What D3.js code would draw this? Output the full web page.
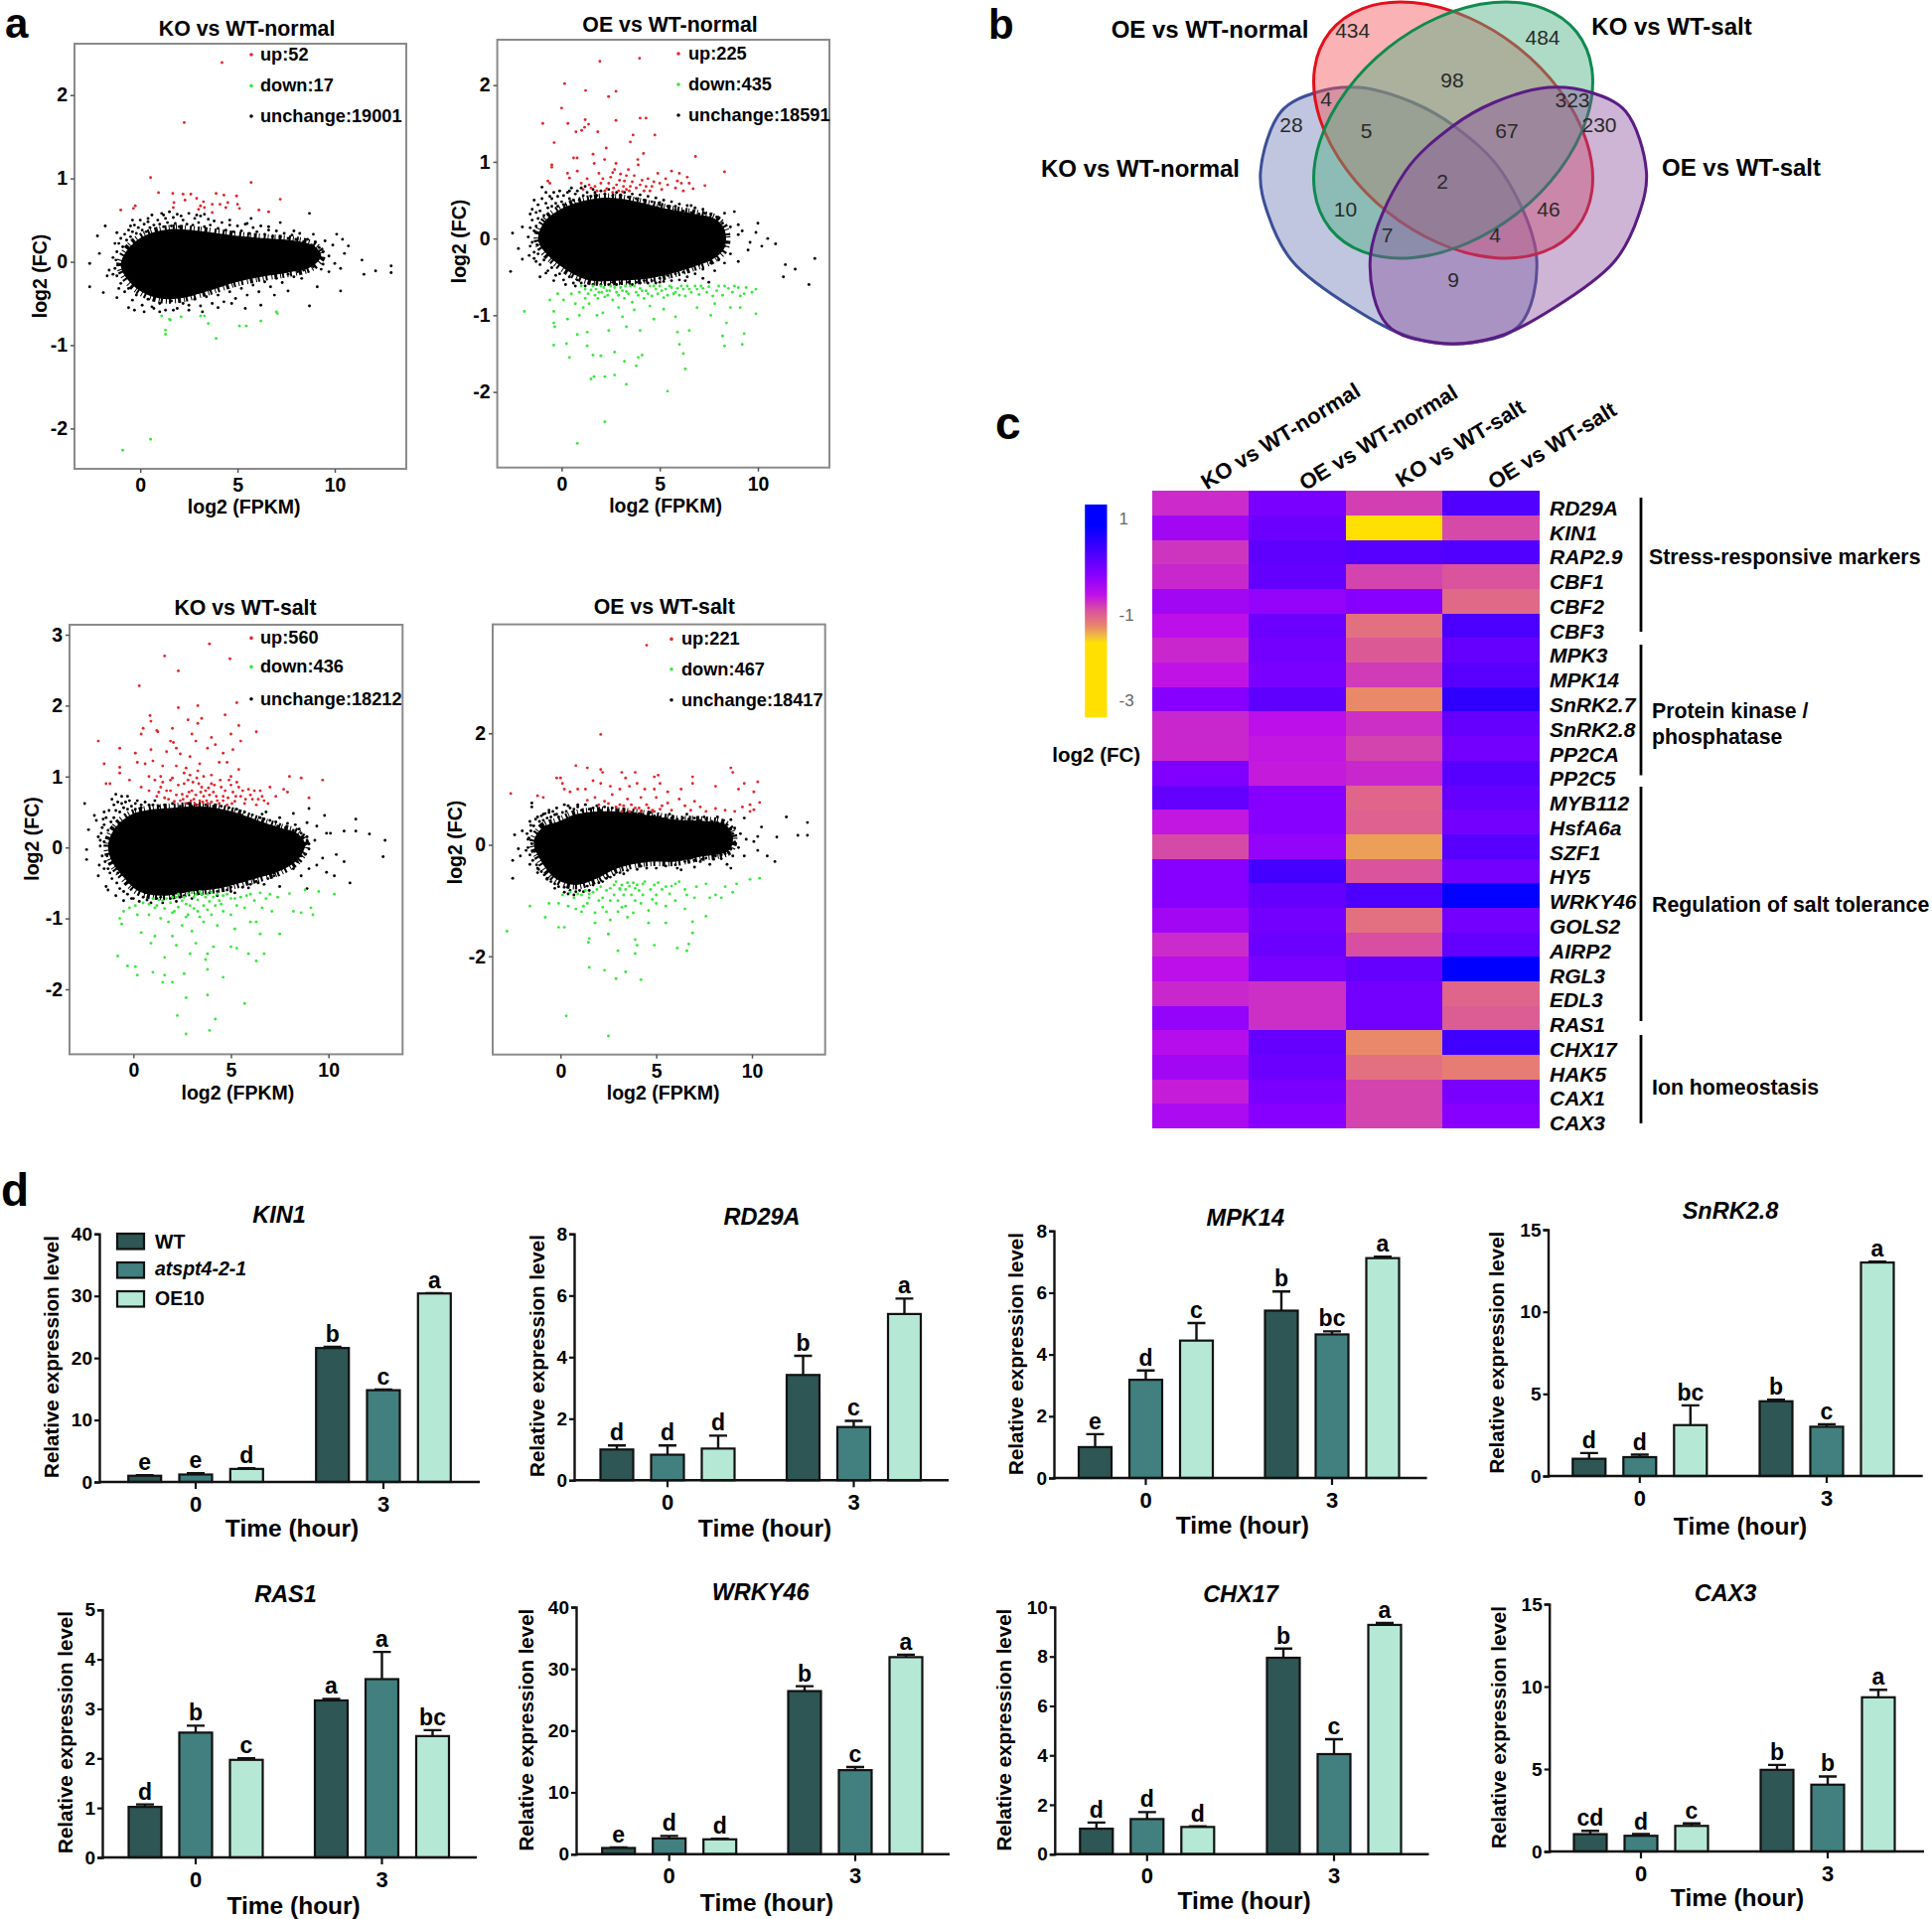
<!DOCTYPE html>
<html>
<head>
<meta charset="utf-8">
<script src="https://cdn.jsdelivr.net/npm/d3@7"></script>
<style>
  body { margin: 0; background: #fff; }
  text { font-family: "Liberation Sans", Arial, sans-serif; fill: #000; }
</style>
</head>
<body>
<div id="chart"></div>
<script>
// ---- panel a: values (log2 FPKM, log2 FC)
const maTitles = ["KO vs WT-normal", "OE vs WT-normal", "KO vs WT-salt", "OE vs WT-salt"];
const maCounts = [
  ["up:52", "down:17", "unchange:19001"],
  ["up:225", "down:435", "unchange:18591"],
  ["up:560", "down:436", "unchange:18212"],
  ["up:221", "down:467", "unchange:18417"]
];

const koNormalUp = [[4.2,2.39],[2.26,1.67],[.53,1.01],[5.7,.95],[.94,.83],[1.67,.82],[2.2,.81],[2.6,.81],[3.9,.82],[4.3,.8],[4.95,.79],[7.2,.75],[-.26,.67],[-1,.62],[1.73,.71],[2.9,.76],[3.25,.72],[3.1,.67],[3.7,.69],[4.1,.69],[4.5,.71],[5,.69],[5.1,.64],[3.7,.59],[6.1,.62],[6.6,.6],[1.7,.65],[3,.63],[3.3,.65],[4.4,.65],[2.3,.74],[-.35,.64]];
const koNormalDown = [[-.9,-2.26],[.53,-2.13],[1.1,-.65],[1.5,-.69],[2.1,-.66],[3.1,-.65],[3.3,-.65],[3.5,-.74],[1.3,-.82],[1.3,-.87],[3.9,-.92],[5.1,-.77],[5.45,-.77],[6.2,-.71],[7,-.6],[7.05,-.62],[1.55,-.7]];
const koNormalFringe = [[-2.6,-.3],[-2.6,-.02],[-2.1,.1],[-2.2,.31],[-1.7,-.17],[-1.9,-.37],[-1.6,-.1],[-1.8,.43],[-1.3,.22],[-1.4,-.15],[-1.2,-.43],[-1.2,.35],[-1.4,.05],[-.6,-.55],[-.3,-.58],[.2,-.6],[.6,-.54],[1,-.6],[1.7,-.58],[2.5,-.58],[3.2,-.6],[4,-.55],[4.7,-.5],[5.4,-.56],[6.2,-.52],[6.9,-.4],[7.6,-.35],[8.7,-.53],[9.1,-.3],[8.3,-.2],[9.7,-.12],[10,-.02],[10.5,.1],[10.4,.27],[10.1,.33],[10.7,.19],[9.5,.25],[8.9,.33],[8.7,.58],[7.9,.37],[7.2,.47],[6.6,.42],[5.7,.52],[5.5,.46],[4.6,.5],[3.3,.57],[2.9,.56],[2.1,.55],[1.2,.56],[.4,.52],[-.4,.5],[-.5,.43],[11.4,.02],[11.5,-.15],[12.1,-.11],[12.9,-.05],[12.9,-.13],[10.3,-.35],[8.2,.05],[9.3,-.09],[9.7,.07],[10.3,-.08],[9.9,.2]];
const koNormalEdge = [[-1.2,.12],[-1.1,.22],[-1,.28],[-.9,.18],[-.8,.33],[-.7,.26],[-.6,.38],[-.5,.3],[-.4,.36],[-.3,.44],[-.2,.34],[-.1,.41],[0,.5],[.1,.38],[.2,.45],[.3,.36],[.4,.48],[.5,.41],[.6,.56],[.7,.44],[.8,.39],[.9,.5],[1,.45],[1.1,.58],[1.2,.42],[1.3,.52],[1.4,.47],[1.5,.6],[1.6,.43],[1.7,.53],[1.8,.46],[1.9,.57],[2,.42],[2.2,.5],[2.4,.45],[2.5,.58],[2.7,.44],[2.8,.52],[3,.47],[3.1,.55],[3.3,.42],[3.5,.51],[3.6,.44],[3.8,.49],[4,.4],[4.2,.47],[4.4,.38],[4.6,.44],[4.8,.36],[5,.43],[5.2,.37],[5.4,.45],[5.6,.34],[5.8,.41],[6,.36],[6.2,.43],[6.4,.33],[6.6,.38],[6.8,.3],[7,.37],[7.2,.3],[7.4,.34],[7.6,.28],[7.8,.32],[8,.27],[8.2,.34],[8.4,.24],[8.6,.27],[8.8,.2],[9,.24],[9.2,.17],[9.4,.12],[8.8,.08],[9.1,.02],[9.4,-.03],[8.9,-.06],[8.6,-.02],[8.4,-.1],[8.1,-.12],[7.9,-.18],[7.6,-.15],[7.3,-.25],[7,-.2],[6.7,-.3],[6.4,-.24],[6.1,-.36],[5.8,-.28],[5.5,-.4],[5.2,-.32],[4.9,-.44],[4.6,-.36],[4.3,-.48],[4,-.4],[3.7,-.5],[3.4,-.42],[3.1,-.53],[2.8,-.45],[2.5,-.52],[2.2,-.5],[1.9,-.56],[1.6,-.47],[1.3,-.58],[1,-.5],[.7,-.56],[.4,-.45],[.1,-.52],[-.2,-.4],[-.4,-.46],[-.6,-.32],[-.8,-.36],[-1,-.26],[-1.1,-.32],[-1.2,-.17],[-1.3,-.08],[-1.25,.02]];
const koNormalCore = [[-1,-.03],[-.6,.16],[.2,.31],[1.5,.39],[3,.37],[5,.31],[6.5,.28],[8,.25],[9,.18],[9.3,.07],[8.8,-.06],[7.6,-.13],[6.5,-.17],[5,-.24],[3.5,-.35],[2,-.44],[1,-.44],[0,-.35],[-.7,-.2]];

const oeNormalUp = [[1.95,2.31],[3.97,2.35],[.15,2.02],[1.22,1.93],[2.77,1.92],[2.39,1.85],[0,1.7],[1.2,1.55],[2.77,1.54],[4,1.57],[4.3,1.57],[-.96,1.5],[.32,1.5],[1.37,1.49],[.73,1.39],[1.02,1.41],[1.84,1.39],[1.17,1.45],[3.64,1.35],[4.75,1.35],[-.38,1.25],[3.5,1.26],[2.27,1.18],[.61,1.05],[.79,1.05],[1.6,1.1],[4.17,1.11],[3.88,1.03],[6.82,1.07],[-.5,.96],[-.5,.93],[1.66,.98],[2.19,1.03],[2.77,.98],[8.3,.87],[-.7,.75],[-.6,.72],[.3,.85],[.4,.79],[.8,.88],[1,.72],[1.3,.78],[1.5,.66],[1.9,.85],[2,.72],[2.3,.65],[2.5,.8],[2.7,.9],[2.8,.7],[3,.84],[3.1,.61],[3.2,.75],[3.4,.9],[3.5,.68],[3.7,.82],[3.9,.96],[4,.7],[4.2,.62],[4.4,.78],[4.6,.68],[4.9,.85],[5.1,.64],[5.4,.7],[5.6,.88],[5.9,.75],[6,.85],[6.2,.62],[6.4,.8],[6.5,.72],[6.7,.65],[7.3,.69],[2.6,.6],[1.8,.62],[3.3,.64],[1.1,.64],[1.4,.7],[1.7,.68],[2.1,.78],[2.2,.62],[2.4,.72],[2.6,.86],[2.65,.66],[2.9,.62],[2.95,.76],[3.15,.68],[3.3,.82],[3.45,.62],[3.6,.74],[3.8,.66],[4.1,.76],[4.3,.68],[4.5,.62],[4.7,.74],[5,.72],[5.3,.78],[5.8,.66],[6.1,.72]];
const oeNormalDown = [[-1.9,-.95],[-.4,-1.1],[-.35,-1.15],[-.4,-1.39],[.25,-1.37],[.4,-1.55],[.8,-1.25],[1.1,-.9],[1.3,-1.22],[1.3,-1.4],[1.6,-1.52],[2,-1.53],[2.7,-1.48],[3.2,-1.6],[3.9,-1.55],[4.1,-1.52],[3.8,-1.66],[1.5,-1.83],[1.65,-1.8],[2.2,-1.8],[2.7,-1.78],[3.3,-1.9],[5.4,-1.99],[2.2,-2.39],[.8,-2.67],[6.3,-1.7],[6.2,-1.5],[6,-1.38],[6.5,-1.2],[5.9,-1.22],[8.3,-1.4],[9.2,-1.38],[8.2,-1.27],[9.3,-1.24],[8.4,-1.1],[7.6,-1],[9.9,-.98],[9.1,-.9],[8.6,-.9],[4.7,-1.05],[4,-1.2],[3.3,-1.15],[2.4,-1.2],[1.8,-1],[.9,-1],[.3,-1.05],[-.4,-.95],[3.1,-1.02],[5.2,-.92],[5.8,-1.02],[4.5,-.88],[3.7,-.93],[2.9,-.9],[2.1,-.97],[1.4,-.85],[.7,-.85],[.1,-.8],[-.6,-.8],[-.2,-.72],[.5,-.72],[.9,-.7],[1.2,-.78],[1.5,-.67],[1.7,-.74],[1.9,-.7],[2,-.62],[2.2,-.76],[2.3,-.68],[2.5,-.62],[2.6,-.8],[2.8,-.7],[3,-.64],[3.2,-.78],[3.3,-.69],[3.5,-.62],[3.6,-.83],[3.8,-.7],[4,-.65],[4.2,-.78],[4.3,-.68],[4.5,-.62],[4.6,-.75],[4.8,-.66],[5,-.62],[5.2,-.77],[5.3,-.66],[5.5,-.62],[5.7,-.72],[5.9,-.65],[6.1,-.62],[6.3,-.75],[6.5,-.66],[6.8,-.62],[7,-.73],[7.2,-.65],[7.5,-.63],[7.7,-.75],[8,-.62],[8.2,-.74],[8.5,-.65],[8.8,-.62],[9.1,-.75],[9.4,-.64],[9.7,-.7],[9.9,-.66],[6.9,-.9],[7.8,-.85],[1,-.62],[1.2,-.66],[1.35,-.72],[1.6,-.62],[1.75,-.66],[1.85,-.78],[2.05,-.7],[2.15,-.64],[2.35,-.74],[2.45,-.68],[2.7,-.64],[2.9,-.74],[3.1,-.68],[3.25,-.62],[3.4,-.72],[3.7,-.62],[3.9,-.74],[4.1,-.68],[4.4,-.72],[4.7,-.62],[4.9,-.72],[5.1,-.68],[5.4,-.74],[5.6,-.64],[5.8,-.7],[6,-.74],[6.2,-.66],[6.4,-.62],[6.6,-.7],[6.9,-.66],[7.1,-.62],[7.4,-.7],[7.9,-.68],[8.3,-.62],[8.7,-.7],[9,-.64],[9.3,-.72]];
const oeNormalFringe = [[-2.5,.07],[-2.6,-.43],[-2.2,-.13],[-2,.15],[-1.6,.32],[-2,-.27],[-1.6,-.1],[-1.4,.5],[-1.3,-.3],[-1.1,-.5],[-1.3,.16],[-1,.67],[-.8,.6],[-.5,.52],[-.2,.55],[.4,.62],[1.2,.68],[1.7,.6],[-.8,-.45],[-.4,-.55],[.2,-.6],[.7,-.62],[5,.47],[5.8,.42],[6.6,.43],[7.3,.33],[7.9,.28],[8.2,.2],[8.6,.15],[8.4,-.05],[8.6,-.2],[8.3,-.32],[7.8,-.42],[7.2,-.52],[8.8,.35],[9,.05],[9.2,.1],[9.6,-.05],[10,.2],[10.2,-.1],[10.5,0],[10.9,-.07],[9.5,-.15],[9,-.3],[11.4,-.34],[11.9,-.4],[11.3,-.5],[12.6,-.6],[12.9,-.26],[9.9,.08],[9,.18],[8.3,.33],[7.5,-.57],[6.3,-.55],[5,-.57],[4,-.58],[3,-.58]];
const oeNormalEdge = [[-1.7,.02],[-1.6,.14],[-1.5,-.05],[-1.5,.24],[-1.4,.1],[-1.4,-.18],[-1.3,.34],[-1.25,-.08],[-1.2,.26],[-1.2,.44],[-1.1,.36],[-1,.52],[-.9,.3],[-.8,.46],[-.7,.4],[-.6,.55],[-.5,.42],[-.4,.6],[-.3,.46],[-.2,.42],[-.1,.62],[0,.48],[.1,.56],[.2,.44],[.3,.6],[.4,.52],[.5,.66],[.6,.5],[.7,.58],[.8,.62],[.9,.5],[1,.66],[1.1,.56],[1.3,.6],[1.5,.55],[1.6,.64],[1.8,.56],[2,.62],[2.2,.58],[2.4,.64],[2.6,.56],[2.8,.6],[3,.57],[3.2,.6],[3.4,.54],[3.6,.58],[3.8,.52],[4,.57],[4.2,.5],[4.4,.55],[4.6,.48],[4.8,.53],[5,.44],[5.2,.5],[5.4,.42],[5.6,.48],[5.8,.38],[6,.45],[6.2,.36],[6.4,.43],[6.6,.34],[6.8,.4],[7,.32],[7.2,.38],[7.4,.26],[7.6,.32],[7.8,.2],[8,.26],[8.2,.12],[8.1,.02],[8.3,-.1],[8.1,-.16],[7.9,-.1],[8,-.28],[7.8,-.22],[7.6,-.32],[7.4,-.26],[7.2,-.4],[7,-.34],[6.8,-.46],[6.6,-.36],[6.4,-.5],[6.2,-.44],[6,-.54],[5.8,-.46],[5.6,-.55],[5.4,-.48],[5.2,-.56],[5,-.52],[4.8,-.58],[4.6,-.55],[4.4,-.58],[4.2,-.55],[3.8,-.57],[3.6,-.6],[3.4,-.57],[2.8,-.6],[2.6,-.57],[2.4,-.6],[2.2,-.58],[2,-.6],[1.8,-.58],[1.6,-.6],[1.4,-.58],[1.2,-.62],[1,-.58],[.8,-.54],[.6,-.58],[.4,-.5],[.1,-.54],[-.1,-.46],[-.3,-.48],[-.5,-.38],[-.7,-.42],[-.9,-.28],[-1.1,-.34],[-1.2,-.2],[-1.4,-.26],[-1.5,.38],[-1.65,-.22]];
const oeNormalCore = [[-1.2,0],[-.9,.21],[-.2,.36],[.8,.47],[2,.53],[3,.52],[4.2,.46],[5.5,.38],[6.8,.32],[7.8,.26],[8.3,.12],[8.3,-.12],[7.7,-.27],[6.8,-.36],[6,-.43],[4.5,-.52],[3,-.55],[1.5,-.55],[.5,-.45],[-.3,-.31],[-1,-.13]];

const koSaltUp = [[3.9,2.87],[1.6,2.7],[4.95,2.66],[2.3,2.49],[.3,2.28],[5.3,2.04],[2.3,1.97],[3.3,2],[4.7,1.87],[.85,1.86],[3.5,1.82],[2.8,1.8],[3.3,1.75],[.9,1.78],[.5,1.68],[1.2,1.65],[2,1.68],[5.4,1.72],[6.3,1.63],[.4,1.6],[1.25,1.63],[3,1.6],[5,1.6],[-1.8,1.5],[1.9,1.5],[2.05,1.48],[2.2,1.4],[3.2,1.5],[4,1.55],[4.2,1.45],[5.5,1.5],[-.7,1.4],[.1,1.33],[.9,1.38],[1.7,1.35],[2.4,1.32],[2.9,1.28],[3.8,1.4],[4.6,1.33],[5.1,1.38],[-1.5,1.18],[-.7,1.13],[.2,1.2],[.6,1.18],[1,1.22],[1.5,1.15],[2.7,1.12],[3.4,1.18],[4.4,1.2],[4.8,1.2],[5.4,1.1],[-1.4,.9],[-1.2,.9],[-.7,1.05],[.8,1],[1.4,1],[1.9,.95],[2.6,1.05],[3.3,1.08],[4,1.02],[5,1],[-.2,.95],[.4,.85],[.8,.8],[1.2,.72],[1.4,.85],[1.6,.7],[1.9,.8],[2.1,.65],[2.3,.88],[2.5,.75],[2.7,.62],[2.8,.95],[3,.8],[3.1,.68],[3.3,.6],[3.5,.85],[3.6,.72],[3.8,.62],[4,.9],[4.1,.78],[4.3,.66],[4.5,.85],[4.6,.72],[4.8,.6],[4.9,.95],[5.1,.78],[5.2,.65],[5.4,.85],[5.5,.72],[5.7,.62],[5.9,.82],[6.1,.68],[6.3,.6],[6.5,.8],[6.7,.66],[7,.85],[7.3,.72],[7.7,.82],[8,1],[7.9,.78],[8.6,.98],[9.7,.95],[9,.7],[6.9,.62],[2.2,1.15],[1.1,.95],[1.3,.78],[1.5,.92],[1.7,.8],[1.8,.68],[2,.98],[2.2,.74],[2.4,.66],[2.6,.9],[2.75,.72],[2.9,1.02],[2.95,.66],[3.05,.92],[3.2,.74],[3.25,.98],[3.4,.66],[3.45,.78],[3.6,1],[3.7,.8],[3.75,.66],[3.9,.74],[4,.64],[4.15,.88],[4.25,.72],[4.4,.62],[4.45,.95],[4.6,.66],[4.7,.8],[4.85,.7],[5,.88],[5.05,.62],[5.25,.72],[5.3,.92],[5.6,.8],[5.75,.68],[6,.74],[6.2,.8],[6.4,.68],[6.6,.72],[2.85,.78],[3.35,.9],[3.85,.84],[2.55,.68],[3.15,.62],[3.55,.64]];
const koSaltDown = [[-.8,-1.53],[-.3,-1.67],[.1,-1.68],[.2,-1.8],[1,-1.76],[1.6,-1.8],[1.5,-1.9],[2,-1.9],[2.6,-1.78],[2.7,-2.12],[3.8,-2.08],[5.7,-2.2],[2.25,-2.37],[4.2,-2.42],[2.7,-2.63],[3.9,-2.58],[3.8,-1.72],[4.6,-1.83],[1.6,-1.55],[2.9,-1.5],[3.7,-1.58],[3.8,-1.5],[5.9,-1.5],[6.7,-1.5],[6.3,-1.6],[5.3,-1.42],[6.5,-1.22],[7.5,-1.22],[2,-1.25],[1.1,-1.25],[.4,-1.2],[.9,-1.35],[2.2,-1.38],[3.2,-1.35],[4.1,-1.4],[5,-1.4],[5.2,-1.15],[6,-1.05],[6.3,-1.05],[-.7,-1],[-.6,-1.08],[-.5,-.9],[-.2,-.85],[.2,-.95],[.8,-.95],[1.1,-.85],[1.4,-1],[1.8,-1.05],[2.1,-.9],[2.5,-1.1],[2.8,-.95],[3,-1.18],[3.3,-.9],[3.6,-1.05],[4,-.95],[4.3,-1.1],[4.6,-.9],[5,-.95],[5.7,-.85],[6.6,-.85],[7.1,-.9],[8.2,-.9],[8.6,-.92],[9.1,-.85],[9.2,-.95],[10.3,-.66],[9.5,-.62],[8.8,-.6],[8,-.65],[7.4,-.7],[6.8,-.72],[6.2,-.75],[5.8,-.68],[5.2,-.72],[4.8,-.66],[4.4,-.75],[4,-.63],[3.7,-.7],[3.4,-.62],[3.1,-.7],[2.8,-.65],[2.5,-.75],[2.2,-.7],[1.9,-.78],[1.5,-.75],[1.2,-.82],[.8,-.8],[.5,-.78],[.1,-.82],[3.6,-.82],[2.9,-.82],[4.2,-.82],[5.3,-.82],[1,-.72],[1.3,-.74],[1.7,-.72],[2,-.7],[2.3,-.66],[2.6,-.7],[2.7,-.8],[3,-.64],[3.2,-.66],[3.3,-.74],[3.5,-.66],[3.8,-.66],[3.9,-.76],[4.1,-.7],[4.3,-.66],[4.6,-.68],[5,-.72],[5.5,-.7],[6,-.66],[6.5,-.64],[7,-.66],[1.6,-.86],[2.3,-.84],[3.1,-.86],[3.8,-.88],[4.5,-.8],[2,-.92],[2.7,-.98],[3.4,-.98]];
const koSaltFringe = [[-2.5,.62],[-2.4,-.03],[-2.4,-.17],[-2.3,.25],[-2,.45],[-1.9,.38],[-1.8,-.4],[-1.7,.1],[-1.5,-.3],[-1.5,.5],[-1.4,-.55],[-1.3,-.6],[-1.1,.68],[-.9,.75],[-.6,.62],[-.3,.72],[.1,.62],[-.9,-.68],[-.5,-.75],[0,-.72],[.4,.6],[1,.6],[6.6,.47],[6.8,.5],[7.5,.42],[8.2,.48],[9,.55],[9.8,.45],[8.9,.35],[9.4,.3],[9.9,.2],[10.1,.2],[10.8,.23],[11.4,.4],[11.4,.23],[12.1,.19],[12.9,.1],[12.8,-.13],[9.4,-.25],[9.9,-.35],[10.3,-.4],[10.8,-.2],[11.1,-.5],[10.4,-.1],[9.7,-.15],[9,-.3],[8.6,-.4],[8.2,-.3],[7.5,-.55],[7.2,-.4],[8.9,-.58],[9,.05],[9.3,.1],[6.7,-.52],[5.9,-.57],[5,-.62],[4.3,-.62],[3.3,-.6],[8.9,.15]];
const koSaltEdge = [[-1.7,.02],[-1.65,.2],[-1.6,-.12],[-1.5,.32],[-1.5,.08],[-1.45,-.2],[-1.4,.42],[-1.35,-.12],[-1.3,.24],[-1.25,.52],[-1.2,-.36],[-1.15,.36],[-1.1,-.44],[-1,.6],[-1,.42],[-.9,.52],[-.85,-.5],[-.8,.64],[-.7,.5],[-.7,-.58],[-.6,.72],[-.5,.56],[-.5,-.62],[-.4,.64],[-.3,.54],[-.3,-.66],[-.2,.66],[-.1,.58],[-.1,-.72],[.1,.54],[.2,.66],[.3,-.76],[.4,.56],[.5,-.7],[.6,.64],[.7,-.74],[.8,.6],[.9,-.78],[1.1,.66],[1.2,-.72],[1.3,.58],[1.5,-.78],[1.6,.6],[1.9,-.72],[2,.62],[2.2,-.76],[2.4,.58],[2.6,-.68],[2.8,.62],[3,-.72],[3.2,.6],[3.5,-.66],[3.7,.6],[3.9,-.64],[4.1,.58],[4.3,-.68],[4.5,.58],[4.8,-.6],[4.9,.56],[5.2,-.64],[5.3,.54],[5.6,-.56],[5.7,.5],[6,-.52],[6.1,.46],[6.4,-.5],[6.5,.42],[6.9,-.44],[7,.38],[7.2,-.36],[7.4,.3],[7.6,-.3],[7.8,.28],[8,-.24],[8.2,.24],[8.4,-.2],[8.6,.2],[8.8,-.1],[8.9,.1],[9,-.02],[8.8,.04],[8.7,.14],[8.6,-.12],[8.5,.26],[8.3,.32],[8.1,-.14],[7.9,.34],[7.7,-.22],[7.3,.36],[6.7,.4],[6.3,-.48],[5.5,.46],[5,-.56],[4.4,.52],[3.8,-.58],[3,.58],[2.4,-.7],[1.4,-.7],[.6,-.64],[-.3,-.5],[-.8,-.36],[-1.3,-.3],[-1.55,.4],[-1.6,.28],[-1.75,-.25],[-1.8,.15]];
const koSaltCore = [[-1.3,.02],[-1,.25],[-.2,.45],[.8,.53],[2,.56],[3.5,.58],[5,.51],[6.2,.4],[7.5,.28],[8.4,.2],[8.8,.05],[8.5,-.15],[7.6,-.32],[6,-.46],[4.5,-.57],[3,-.62],[1.5,-.68],[.3,-.62],[-.5,-.42],[-1.1,-.2]];

const oeSaltUp = [[4.5,3.58],[2.1,1.98],[.8,1.42],[1.4,1.38],[2.1,1.35],[2.2,1.3],[3.2,1.3],[3.9,1.3],[5.1,1.25],[4.9,1.22],[6.9,1.22],[8.9,1.38],[9,1.3],[10.3,1.13],[9.6,1.1],[-2.6,.92],[-1.2,.88],[-.9,.85],[-.2,1.2],[0,1.2],[.1,1.1],[.2,1],[.5,.95],[.9,1],[1.3,1],[1.7,1.15],[2.1,1.1],[2.6,1.05],[3.1,1],[3.4,1.2],[3.6,1.05],[4,1.1],[4.4,1],[4.9,1],[5.2,1.1],[5.6,.95],[6.3,1],[6.9,1.1],[8.1,1.05],[9.3,1],[10.1,.95],[10.4,.76],[9.9,.72],[9.5,.68],[1.4,.8],[1.8,.85],[2.3,.78],[2.7,.9],[3.1,.72],[3.5,.82],[3.9,.66],[4.2,.85],[4.5,.72],[4.8,.62],[5,.85],[5.3,.7],[5.6,.75],[5.8,.62],[6.2,.82],[6.5,.7],[6.8,.62],[7,.78],[7.3,.68],[7.6,.6],[8.1,.65],[8.6,.62],[9.1,.6],[9.9,.6],[10.1,.63],[3.2,.6],[3.6,.6],[4.2,.6],[4.9,.6],[2,.72],[2.5,.74],[2.9,.68],[3.3,.7],[3.7,.72],[4.1,.66],[4.6,.66],[5.2,.64]];
const oeSaltDown = [[.3,-3.07],[2.5,-3.43],[-2.8,-1.55],[-.1,-1.48],[1.5,-1.68],[1.45,-1.75],[2.5,-1.6],[3,-1.9],[3.9,-1.7],[4,-1.8],[3.9,-1.95],[4.9,-1.8],[6.1,-1.85],[6.6,-1.9],[6.7,-1.78],[1.5,-2.2],[2.3,-2.25],[2.9,-2.4],[3.4,-2.28],[4.2,-2.42],[2.5,-1.6],[6.9,-1.38],[7.6,-1.28],[6.9,-1.58],[5.5,-1.4],[4.6,-1.4],[3.5,-1.3],[2.6,-1.35],[1.8,-1.4],[.2,-1.48],[-1.6,-1.1],[-.8,-1.3],[-.6,-1.05],[-.1,-1.05],[.4,-1.1],[.8,-1.15],[1.1,-1.2],[1.4,-1.05],[1.8,-1.22],[2.2,-1.12],[2.6,-1],[3,-1.2],[3.4,-1.1],[3.8,-1.22],[4.2,-1.05],[4.6,-1.18],[5,-1.05],[5.5,-1.1],[6,-1],[6.5,-1.15],[7,-.95],[7.8,-.95],[8.1,-.9],[8.4,-.95],[9,-.85],[9.2,-.7],[10.4,-.6],[9.9,-.62],[8.6,-.75],[7.6,-.7],[7.1,-.75],[6.5,-.8],[6,-.7],[5.5,-.75],[5.1,-.68],[4.7,-.8],[4.3,-.7],[3.9,-.78],[3.5,-.68],[3.1,-.8],[2.8,-.72],[2.4,-.82],[2.1,-.75],[1.7,-.85],[1.3,-.82],[.9,-.88],[.5,-.85],[.1,-.9],[3.3,-.9],[2.8,-.9],[3.7,-.9],[2.2,-.95],[1.5,-.95],[4.3,-.9],[5,-.9],[5.7,-.88],[6.6,-.9],[3.1,-.78],[3.6,-.74],[2.6,-.78],[2.9,-.66],[3.2,-.72],[3.4,-.8],[3.8,-.68],[4,-.72],[4.1,-.82],[4.4,-.66],[4.9,-.72],[5.3,-.8],[5.8,-.74],[6.2,-.66],[1.9,-.8],[1.5,-.88],[1.1,-.9],[.7,-.95],[2,-1],[3,-1],[3.9,-1],[4.8,-.98],[1.2,-1.1],[2.4,-1.2],[3.2,-1.12]];
const oeSaltFringe = [[-2.5,-.6],[-2.4,.18],[-2.5,-.28],[-2.2,-.07],[-2.1,-.2],[-2,.25],[-1.7,.1],[-1.6,-.35],[-1.6,.42],[-1.5,.75],[-1.5,.68],[-1.2,.5],[-.9,.55],[-.6,.58],[-.2,.55],[.4,.7],[.9,.72],[-1.2,-.5],[-.7,-.62],[-.3,-.78],[.2,-.85],[.7,-.9],[4.7,.58],[5.7,.55],[6.6,.55],[7.5,.5],[8.2,.5],[8.9,.45],[9.6,.48],[9.1,.3],[9.4,.2],[9.7,.1],[10.1,.06],[10.5,.32],[11.8,.5],[12.9,.4],[12.4,.17],[12.9,.17],[11.3,.14],[10.3,.15],[10.3,-.1],[10.8,-.2],[11.2,-.3],[9.6,-.2],[9,-.2],[8.7,-.35],[8.4,-.25],[8.9,-.42],[7.8,-.35],[7.3,-.3],[7,-.4],[6.3,-.45],[9.1,.05],[9.3,-.05]];
const oeSaltEdge = [[-1.7,-.05],[-1.65,.12],[-1.6,-.18],[-1.55,.25],[-1.5,.02],[-1.45,-.28],[-1.4,.34],[-1.35,-.12],[-1.3,.46],[-1.25,-.36],[-1.2,.2],[-1.15,-.44],[-1.1,.42],[-1,.52],[-1,-.48],[-.9,.44],[-.85,-.54],[-.8,.56],[-.7,.48],[-.7,-.6],[-.6,.62],[-.5,.5],[-.5,-.66],[-.4,.6],[-.3,.54],[-.3,-.7],[-.2,.66],[-.1,.5],[-.1,-.75],[.1,.58],[.2,.72],[.2,-.76],[.3,.6],[.5,.66],[.5,-.82],[.7,.64],[.8,-.84],[.9,.68],[1,-.82],[1.1,.62],[1.2,-.84],[1.3,.72],[1.4,-.74],[1.5,.64],[1.7,.66],[1.7,-.72],[1.9,.7],[2,-.68],[2.1,.62],[2.3,.68],[2.4,-.6],[2.5,.62],[2.7,.66],[2.8,-.54],[3,.62],[3.1,-.5],[3.3,.62],[3.5,.58],[3.5,-.46],[3.7,.58],[3.9,.56],[4,-.44],[4.1,.56],[4.3,.54],[4.5,-.42],[4.6,.56],[4.9,.52],[5,-.42],[5.2,.5],[5.5,.48],[5.5,-.38],[5.8,.48],[6,-.36],[6.1,.46],[6.4,.48],[6.5,-.3],[6.7,.46],[7,.48],[7,-.28],[7.3,.44],[7.6,.46],[7.6,-.24],[7.9,.42],[8.1,-.2],[8.2,.4],[8.5,.38],[8.6,-.16],[8.7,.36],[8.9,.28],[9,.2],[8.95,.14],[9,.02],[8.9,-.08],[8.8,-.14],[8.4,-.18],[8,-.26],[7.4,-.26],[6.8,-.24],[6.1,-.42],[4.2,-.38],[3.3,-.52],[2.6,-.58],[2.2,-.66],[1.5,-.82],[.4,-.88],[-1.2,-.42],[-1.55,.35],[-1.75,.2],[-1.8,-.1]];
const oeSaltCore = [[-1.4,.05],[-.9,.32],[-.1,.42],[.8,.55],[2,.6],[3.5,.58],[4.8,.52],[6,.45],[7.5,.43],[8.6,.36],[9,.15],[8.8,-.1],[7.2,-.22],[6,-.3],[4.5,-.31],[3,-.42],[1.8,-.62],[.8,-.72],[-.2,-.62],[-1,-.3]];

const maUp = [koNormalUp, oeNormalUp, koSaltUp, oeSaltUp];
const maDown = [koNormalDown, oeNormalDown, koSaltDown, oeSaltDown];
const maFringe = [koNormalFringe.concat(koNormalEdge), oeNormalFringe.concat(oeNormalEdge), koSaltFringe.concat(koSaltEdge), oeSaltFringe.concat(oeSaltEdge)];
const maCore = [koNormalCore, oeNormalCore, koSaltCore, oeSaltCore];
const maXTicks = [0, 5, 10];
const maYTicks = [[-2, -1, 0, 1, 2], [-2, -1, 0, 1, 2], [-2, -1, 0, 1, 2, 3], [-2, 0, 2]];

// ---- panel b
const vennSets = ["OE vs WT-normal", "KO vs WT-salt", "KO vs WT-normal", "OE vs WT-salt"];
const vennCounts = [434, 484, 98, 4, 323, 28, 5, 67, 230, 2, 10, 46, 7, 4, 9];

// ---- panel c
const heatColumns = ["KO vs WT-normal", "OE vs WT-normal", "KO vs WT-salt", "OE vs WT-salt"];
const heatGenes = ["RD29A", "KIN1", "RAP2.9", "CBF1", "CBF2", "CBF3", "MPK3", "MPK14", "SnRK2.7", "SnRK2.8", "PP2CA", "PP2C5", "MYB112", "HsfA6a", "SZF1", "HY5", "WRKY46", "GOLS2", "AIRP2", "RGL3", "EDL3", "RAS1", "CHX17", "HAK5", "CAX1", "CAX3"];
const heatKoNormal = [-.7, -.35, -.75, -.68, -.35, -.55, -.68, -.58, -.15, -.68, -.68, -.1, .1, -.6, -.85, -.15, -.15, -.35, -.7, -.55, -.68, -.25, -.5, -.35, -.63, -.42];
const heatOeNormal = [-.05, .05, .15, .1, -.25, .05, 0, -.05, .15, -.55, -.6, -.62, -.15, -.15, -.25, .35, .1, 0, .05, -.05, -.72, -.72, .1, .05, -.05, -.15];
const heatKoSalt = [-.8, -3, .2, -.82, -.15, -1.1, -.95, -.78, -1.25, -.72, -.82, -.68, -1.03, -1, -1.35, -.9, .28, -1.1, -.87, .1, 0, 0, -1.25, -1.1, -.82, -.82];
const heatOeSalt = [.25, -.85, .25, -.9, -1.05, .3, .1, .2, .5, .1, 0, .2, .1, 0, .2, 0, .85, 0, .12, .9, -1.03, -.97, .38, -1.18, -.05, -.15];
const heatValues = [heatKoNormal, heatOeNormal, heatKoSalt, heatOeSalt];
const heatLegendTicks = [1, -1, -3];
const heatGroups = ["Stress-responsive markers", "Protein kinase /", "phosphatase", "Regulation of salt tolerance", "Ion homeostasis"];

// ---- panel d
const times = ["0", "3"];
const genotypes = ["WT", "atspt4-2-1", "OE10"];
const barGenes = ["KIN1", "RD29A", "MPK14", "SnRK2.8", "RAS1", "WRKY46", "CHX17", "CAX3"];
const barMeans = [
  [1.0, 1.2, 2.1, 21.6, 14.8, 30.4],
  [1.0, .83, 1.03, 3.42, 1.73, 5.4],
  [1.0, 3.18, 4.45, 5.42, 4.65, 7.12],
  [1.05, 1.15, 3.1, 4.55, 3.0, 13.0],
  [1.02, 2.52, 1.97, 3.17, 3.6, 2.45],
  [1.0, 2.55, 2.4, 26.4, 13.6, 31.9],
  [1.03, 1.42, 1.1, 7.95, 4.05, 9.28],
  [1.05, .95, 1.55, 4.95, 4.05, 9.35]
];
const barErrors = [
  [.1, .2, .1, .2, .1, .05],
  [.13, .3, .42, .62, .2, .5],
  [.42, .3, .57, .62, .1, .05],
  [.35, .15, 1.2, .1, .15, .05],
  [.05, .14, .03, .03, .55, .12],
  [.1, .4, .1, .8, .5, .4],
  [.25, .28, .03, .37, .6, .08],
  [.2, .1, .15, .3, .5, .45]
];
const barLetters = [
  ["e", "e", "d", "b", "c", "a"],
  ["d", "d", "d", "b", "c", "a"],
  ["e", "d", "c", "b", "bc", "a"],
  ["d", "d", "bc", "b", "c", "a"],
  ["d", "b", "c", "a", "a", "bc"],
  ["e", "d", "d", "b", "c", "a"],
  ["d", "d", "d", "b", "c", "a"],
  ["cd", "d", "c", "b", "b", "a"]
];
const barYTicks = [
  [0, 10, 20, 30, 40], [0, 2, 4, 6, 8], [0, 2, 4, 6, 8], [0, 5, 10, 15],
  [0, 1, 2, 3, 4, 5], [0, 10, 20, 30, 40], [0, 2, 4, 6, 8, 10], [0, 5, 10, 15]
];

// ---- layout (page pixels)
const width = 1945;
const height = 1932;

const svg = d3.select("#chart").append("svg")
  .attr("width", width).attr("height", height)
  .attr("viewBox", [0, 0, width, height]);

function label(x, y, str, size, opts = {}) {
  return svg.append("text")
    .attr("transform", `translate(${x},${y})` + (opts.rotate ? ` rotate(${opts.rotate})` : ""))
    .attr("text-anchor", opts.anchor || "middle")
    .attr("dominant-baseline", opts.baseline || "central")
    .attr("font-size", size)
    .attr("font-weight", opts.weight || "bold")
    .attr("font-style", opts.italic ? "italic" : "normal")
    .style("fill", opts.fill || "#000")
    .text(str);
}

label(5, 38, "a", 42, { anchor: "start", baseline: "auto" });
label(995, 39, "b", 42, { anchor: "start", baseline: "auto" });
label(1002, 442, "c", 46, { anchor: "start", baseline: "auto" });
label(1, 1214, "d", 46, { anchor: "start", baseline: "auto" });

// ---- panel a
const maLayout = [
  { l: 75, r: 409, t: 44, b: 472, x0: 141.2, x10: 337, yLo: [-2, 431.4], yHi: [2, 95.7], title: [248.6, 29], xLab: [245.7, 510], yLab: [40, 278], keyDot: 253, keyText: 262, keyY: [55, 86.4, 117] },
  { l: 500.6, r: 835, t: 40, b: 470.7, x0: 565.4, x10: 763, yLo: [-2, 394.6], yHi: [2, 85.7], title: [674.5, 25], xLab: [670, 509], yLab: [462, 243], keyDot: 683, keyText: 693, keyY: [54, 85, 116] },
  { l: 70, r: 405.3, t: 629, b: 1061.4, x0: 134.3, x10: 330.7, yLo: [-2, 996], yHi: [3, 639], title: [247, 612.4], xLab: [239.4, 1100], yLab: [31.6, 844.5], keyDot: 253, keyText: 262, keyY: [642.4, 671.4, 703.8] },
  { l: 496, r: 830.7, t: 628.6, b: 1061.7, x0: 564.3, x10: 757, yLo: [-2, 962.8], yHi: [2, 738.3], title: [668.8, 610.7], xLab: [667.6, 1100], yLab: [457.5, 848], keyDot: 676, keyText: 686, keyY: [643.4, 673.8, 704.8] }
];
const upColor = "#e3262b";
const downColor = "#38e83c";

maLayout.forEach((p, i) => {
  const x = d3.scaleLinear().domain([0, 10]).range([p.x0, p.x10]);
  const y = d3.scaleLinear().domain([p.yLo[0], p.yHi[0]]).range([p.yLo[1], p.yHi[1]]);
  const g = svg.append("g");

  g.append("rect").attr("x", p.l).attr("y", p.t)
    .attr("width", p.r - p.l).attr("height", p.b - p.t)
    .attr("fill", "#fff").attr("stroke", "#8a8a8a").attr("stroke-width", 2);

  // the saturated part of the cloud, with a broken stroke so its rim stays rough
  const outline = d3.line().x(d => x(d[0])).y(d => y(d[1])).curve(d3.curveCatmullRomClosed);
  g.append("path").attr("d", outline(maCore[i]))
    .attr("fill", "#000").attr("stroke", "#000").attr("stroke-width", 9)
    .attr("stroke-dasharray", "2 1 1 3 3 2 1 4 2 2 1 3");

  const groups = [[maFringe[i], "#000"], [maUp[i], upColor], [maDown[i], downColor]];
  groups.forEach(([pts, col]) => {
    g.append("g").selectAll("circle").data(pts).join("circle")
      .attr("cx", d => x(d[0])).attr("cy", d => y(d[1]))
      .attr("r", 1.45).attr("fill", col);
  });

  const xAxis = g.append("g").attr("transform", `translate(0,${p.b})`)
    .call(d3.axisBottom(x).tickValues(maXTicks).tickSize(4).tickPadding(5).tickFormat(d => d));
  const yAxis = g.append("g").attr("transform", `translate(${p.l},0)`)
    .call(d3.axisLeft(y).tickValues(maYTicks[i]).tickSize(4).tickPadding(3).tickFormat(d => d));
  [xAxis, yAxis].forEach(a => {
    a.select(".domain").remove();
    a.selectAll("line").attr("stroke", "#555").attr("stroke-width", 1.5);
    a.selectAll("text").attr("font-size", 19.5).attr("font-weight", "bold");
  });

  label(p.title[0], p.title[1], maTitles[i], 21.3);
  label(p.xLab[0], p.xLab[1], "log2 (FPKM)", 19.5);
  label(p.yLab[0], p.yLab[1], "log2 (FC)", 19.5, { rotate: -90 });

  [upColor, downColor, "#000"].forEach((col, k) => {
    g.append("circle").attr("cx", p.keyDot).attr("cy", p.keyY[k]).attr("r", 1.8).attr("fill", col);
    label(p.keyText, p.keyY[k], maCounts[i][k], 18.2, { anchor: "start" });
  });
});

// ---- panel b
const vennBack = svg.append("g");
const vennCenter = [1463, 131];
const vennOvals = [
  { rot: 38.6, fill: "#f4585c", stroke: "#e3101c" },
  { rot: -38.6, fill: "#4fb083", stroke: "#108a50" }
];
const blueEgg = [[1269, 173], [1290, 112], [1325, 93], [1368, 88], [1422, 103], [1464, 127], [1512, 173], [1547, 260], [1530, 327], [1482, 345], [1422, 340], [1362, 310], [1301, 263], [1277, 217]];
const purpleEgg = blueEgg.map(d => [2 * vennCenter[0] - d[0] + 0.5, d[1]]);
const eggLine = d3.line().curve(d3.curveCatmullRomClosed);

vennBack.append("path").attr("d", eggLine(blueEgg))
  .attr("fill", "#6a78b4").attr("fill-opacity", .42)
  .attr("stroke", "#3c4f96").attr("stroke-width", 3);
vennOvals.forEach(o => {
  vennBack.append("ellipse")
    .attr("transform", `translate(${vennCenter}) rotate(${o.rot})`)
    .attr("rx", 158.7).attr("ry", 105.7)
    .attr("fill", o.fill).attr("fill-opacity", .46)
    .attr("stroke", o.stroke).attr("stroke-width", 3);
});
vennBack.append("path").attr("d", eggLine(purpleEgg))
  .attr("fill", "#8a4c9c").attr("fill-opacity", .42)
  .attr("stroke", "#5a1c84").attr("stroke-width", 3);

const vennCountPos = [[1361.7, 30.7], [1553, 37], [1462, 80.7], [1335, 99], [1583, 100.7], [1300, 125], [1375.5, 131], [1517, 131], [1610, 125], [1452, 182], [1354.4, 210], [1559, 210], [1396.6, 236], [1505, 236], [1463, 281.7]];
vennCounts.forEach((c, i) => {
  label(vennCountPos[i][0], vennCountPos[i][1], c, 21, { weight: "normal", fill: "#2a2a2a" });
});
const vennSetPos = [[1218, 29], [1683, 26], [1148, 169], [1753, 168]];
vennSets.forEach((s, i) => label(vennSetPos[i][0], vennSetPos[i][1], s, 24));

// ---- panel c
const heatX = d3.scaleBand().domain(heatColumns.map((d, i) => i)).range([1159.7, 1549.7]);
const heatY = d3.scaleBand().domain(heatGenes).range([494.4, 1136]);
const heatColor = d3.scaleLinear()
  .domain([1.3, .87, .35, -.16, -.57, -.88, -1.21, -1.5, -1.63, -3.4])
  .range(["#0000ff", "#0000ff", "#4400ff", "#8800ff", "#c010e8", "#d850a0", "#e88070", "#f0c040", "#ffe000", "#ffe000"])
  .clamp(true);

svg.append("g").selectAll("g").data(heatValues).join("g")
  .attr("transform", (d, i) => `translate(${heatX(i)},0)`)
  .selectAll("rect").data(d => d).join("rect")
  .attr("y", (d, i) => heatY(heatGenes[i]))
  .attr("width", heatX.bandwidth()).attr("height", heatY.bandwidth())
  .attr("shape-rendering", "crispEdges")
  .attr("fill", d => heatColor(d));

const heatHeadPos = [[1211, 487], [1310, 488], [1407, 485], [1500, 487]];
heatColumns.forEach((c, i) => {
  label(heatHeadPos[i][0], heatHeadPos[i][1], c, 22, { anchor: "start", rotate: -31.5 });
});

const geneY = d3.scalePoint().domain(heatGenes).range([511.3, 1130.7]);
heatGenes.forEach(g => label(1560, geneY(g), g, 21, { anchor: "start", italic: true }));

const brackets = [[501, 636], [649, 780.5], [792, 1028], [1042, 1131]];
svg.append("g").selectAll("line").data(brackets).join("line")
  .attr("x1", 1652).attr("x2", 1652)
  .attr("y1", d => d[0]).attr("y2", d => d[1])
  .attr("stroke", "#000").attr("stroke-width", 2.8);

const heatGroupPos = [[1660, 560.6], [1663, 716], [1663, 742], [1663, 911], [1663, 1095]];
heatGroups.forEach((t, i) => label(heatGroupPos[i][0], heatGroupPos[i][1], t, 21.3, { anchor: "start" }));

// colour key: y positions pinned to the three printed labels
const keyY = d3.scaleLinear().domain([1.3, 1, -1, -3, -3.4]).range([507.9, 522.8, 619.8, 705.9, 722.3]);
const keyGrad = svg.append("defs").append("linearGradient")
  .attr("id", "keyGrad").attr("x1", 0).attr("x2", 0).attr("y1", 0).attr("y2", 1);
heatColor.domain().forEach((v, i) => {
  keyGrad.append("stop")
    .attr("offset", (keyY(v) - keyY(1.3)) / (keyY(-3.4) - keyY(1.3)))
    .attr("stop-color", heatColor.range()[i]);
});
svg.append("rect").attr("x", 1092.2).attr("y", keyY(1.3))
  .attr("width", 22.3).attr("height", keyY(-3.4) - keyY(1.3))
  .attr("fill", "url(#keyGrad)");
heatLegendTicks.forEach(v => {
  label(1126.6, keyY(v), v, 17, { anchor: "start", weight: "normal", fill: "#666" });
});
label(1103.7, 759.6, "log2 (FC)", 20.5);

// ---- panel d
const barLayout = [
  { axis: 100, end: 483, y0: 1492, yTop: 1242.3, c0: 197, c3: 386, step: 51.3, title: [281, 1223], yLab: [51, 1366], xLab: [294, 1538] },
  { axis: 578, end: 955, y0: 1490.3, yTop: 1242.3, c0: 672, c3: 859.5, step: 51, title: [767, 1225], yLab: [540.6, 1365], xLab: [770, 1538] },
  { axis: 1061, end: 1436.6, y0: 1488, yTop: 1239.3, c0: 1153.5, c3: 1341, step: 51, title: [1253.8, 1226], yLab: [1022, 1363], xLab: [1250.8, 1535] },
  { axis: 1558.5, end: 1935.7, y0: 1486, yTop: 1238, c0: 1650.8, c3: 1839, step: 51, title: [1742, 1219], yLab: [1506, 1361.7], xLab: [1752, 1536] },
  { axis: 103, end: 480, y0: 1870, yTop: 1620.7, c0: 197, c3: 384.5, step: 51, title: [287.5, 1605], yLab: [65.6, 1744], xLab: [295.6, 1918] },
  { axis: 580, end: 956, y0: 1866.7, yTop: 1618, c0: 673.7, c3: 861, step: 51, title: [765.6, 1603], yLab: [529, 1741.7], xLab: [772, 1915] },
  { axis: 1061.8, end: 1438.5, y0: 1866.7, yTop: 1618, c0: 1154.8, c3: 1343, step: 51, title: [1249, 1605], yLab: [1010.8, 1741.7], xLab: [1252.6, 1913] },
  { axis: 1559.7, end: 1937, y0: 1864, yTop: 1615, c0: 1652, c3: 1840, step: 51, title: [1737, 1604], yLab: [1508, 1739], xLab: [1749, 1910] }
];
const genotypeColor = d3.scaleOrdinal().domain(genotypes).range(["#2d5654", "#41807f", "#b5e8d5"]);

barLayout.forEach((p, i) => {
  const groupStep = p.c3 - p.c0;
  const x0 = d3.scaleBand().domain(times).range([p.c0 - groupStep / 2, p.c3 + groupStep / 2]);
  const x1 = d3.scaleBand().domain(genotypes)
    .range([groupStep / 2 - 1.5 * p.step, groupStep / 2 + 1.5 * p.step]);
  const ticks = barYTicks[i];
  const y = d3.scaleLinear().domain([0, d3.max(ticks)]).range([p.y0, p.yTop]);
  const rows = barMeans[i].map((m, k) => ({
    time: times[Math.floor(k / 3)],
    genotype: genotypes[k % 3],
    mean: m,
    err: barErrors[i][k],
    letter: barLetters[i][k]
  }));
  const cx = d => x0(d.time) + x1(d.genotype) + x1.bandwidth() / 2;
  const g = svg.append("g");
  const barW = 33;

  // error bars sit behind the bar tops
  g.append("g").selectAll("path").data(rows).join("path")
    .attr("d", d => `M${cx(d)},${y(d.mean)}V${y(d.mean + d.err)}m-9,0h18`)
    .attr("fill", "none").attr("stroke", "#111").attr("stroke-width", 2.4);

  g.append("g").selectAll("rect").data(rows).join("rect")
    .attr("x", d => cx(d) - barW / 2).attr("y", d => y(d.mean))
    .attr("width", barW).attr("height", d => p.y0 - y(d.mean))
    .attr("fill", d => genotypeColor(d.genotype))
    .attr("stroke", "#111").attr("stroke-width", 2.2);

  g.append("g").selectAll("text").data(rows).join("text")
    .attr("x", cx).attr("y", d => y(d.mean + d.err) - 5)
    .attr("text-anchor", "middle")
    .attr("font-size", 23).attr("font-weight", "bold")
    .text(d => d.letter);

  const yAxis = g.append("g").attr("transform", `translate(${p.axis},0)`)
    .call(d3.axisLeft(y).tickValues(ticks).tickSize(5).tickPadding(2).tickFormat(d => d));
  yAxis.select(".domain").attr("stroke", "#111").attr("stroke-width", 2.4);
  yAxis.selectAll("line").attr("stroke", "#111").attr("stroke-width", 2.2);
  yAxis.selectAll("text").attr("font-size", 19).attr("font-weight", "bold");

  const xAxis = g.append("g").attr("transform", `translate(0,${p.y0})`)
    .call(d3.axisBottom(x0).tickSize(7).tickPadding(7));
  xAxis.select(".domain").remove();
  xAxis.selectAll("line").attr("stroke", "#111").attr("stroke-width", 2.2);
  xAxis.selectAll("text").attr("font-size", 22).attr("font-weight", "bold");
  g.append("line").attr("x1", p.axis).attr("x2", p.end)
    .attr("y1", p.y0).attr("y2", p.y0)
    .attr("stroke", "#111").attr("stroke-width", 2.6);

  label(p.title[0], p.title[1], barGenes[i], 23.5, { italic: true });
  label(p.yLab[0], p.yLab[1], "Relative expression level", 20.5, { rotate: -90 });
  label(p.xLab[0], p.xLab[1], "Time (hour)", 24.5);
});

// legend of the first bar chart
const swatchY = [1242, 1271, 1300];
const legendTextY = [1250, 1277, 1307];
genotypes.forEach((gt, i) => {
  svg.append("rect").attr("x", 118).attr("y", swatchY[i]).attr("width", 27).attr("height", 15.5)
    .attr("fill", genotypeColor(gt)).attr("stroke", "#111").attr("stroke-width", 2.2);
  label(156, legendTextY[i], gt, 19.5, { anchor: "start", italic: gt === "atspt4-2-1" });
});
</script>
</body>
</html>
